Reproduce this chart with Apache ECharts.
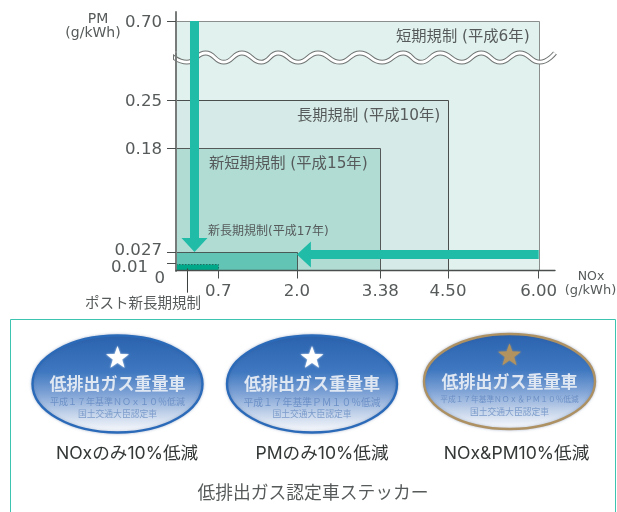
<!DOCTYPE html>
<html lang="ja">
<head>
<meta charset="utf-8">
<title>重量車排出ガス規制</title>
<style>
  html, body { margin: 0; padding: 0; background: #fff; }
  #chart { width: 617px; height: 512px; }
</style>
</head>
<body>
<div id="chart"></div>
<script src="https://cdn.jsdelivr.net/npm/echarts@6/dist/echarts.min.js"></script>
<script>
// Axis ticks
const xTicks = [0.7, 2, 3.38, 4.5, 6];
const xTickLabels = ['0.7', '2.0', '3.38', '4.50', '6.00'];
const yLabelValues = [0, 0.01, 0.027, 0.18, 0.25, 0.7];
const yLabelTexts = ['0', '0.01', '0.027', '0.18', '0.25', '0.70'];
const yTicks = [0.01, 0.027, 0.18, 0.25, 0.7];

// Regulation limits, outermost first: NOx and PM in g/kWh
const regulationNox = [6, 4.5, 3.38, 2, 0.7];
const regulationPm = [0.7, 0.25, 0.18, 0.027, 0.01];
const regulationFill = ['#e0f1ee', '#d6ebe7', '#b0dcd4', '#62c4b4', '#00a88a'];
const regulationStroke = ['#8a8f8e', '#4a4f4e', '#555a59', '#4a5a57', '#1c6f60'];

// Tightening arrows: from NOx, from PM, to NOx, to PM
const arrowRows = [
  [0.306, 0.7, 0.306, 0.027],
  [6, 0.0235, 2, 0.0235]
];

// Wavy mark for the cut in the PM axis
const waveNox = [-0.13, 0.18, 0.49, 0.79, 1.09, 1.41, 1.69, 2.02, 2.35, 2.71, 3.04,
  3.41, 3.76, 4.05, 4.37, 4.73, 5.05, 5.36, 5.69, 6.02, 6.27];
const wavePm = [0.319, 0.3055, 0.319, 0.3055, 0.319, 0.3055, 0.319, 0.3055, 0.319, 0.3055, 0.319,
  0.3055, 0.319, 0.3055, 0.319, 0.3055, 0.319, 0.3055, 0.319, 0.3055, 0.319];

// Leader from the smallest rectangle to its caption
const leaderRows = [[0.19, 0.003, 0.19, -0.0325]];

// Sticker captions
const stickerCaptions = ['NOxのみ10%低減', 'PMのみ10%低減', 'NOx&PM10%低減'];
const stickerNotes = ['平成１７年基準ＮＯｘ１０％低減', '平成１７年基準ＰＭ１０％低減', '平成１７年基準ＮＯｘ＆ＰＭ１０％低減'];

const LATIN = '"DejaVu Sans", "Noto Sans CJK JP", sans-serif';
const CAPTION = 'Inter, "Noto Sans CJK JP", sans-serif';
const INK = '#565a5a';

function label(text, x, y, size, align, color, font) {
  return {
    type: 'text', silent: true, z: 20,
    style: {
      text: text, x: x, y: y, fontSize: size, fontFamily: font || LATIN,
      fill: color || INK, align: align || 'left', verticalAlign: 'middle'
    }
  };
}

function starPoints(cx, cy, outer, inner) {
  const pts = [];
  for (let i = 0; i < 10; i++) {
    const r = i % 2 ? inner : outer;
    const a = -Math.PI / 2 + i * Math.PI / 5;
    pts.push([cx + r * Math.cos(a), cy + r * Math.sin(a)]);
  }
  return pts;
}

function sticker(cx, cy, rx, ry, ringColor, starColor, note, noteSize) {
  return {
    type: 'group', z: 10, silent: true,
    children: [
      {
        type: 'ellipse',
        shape: { cx: cx, cy: cy, rx: rx, ry: ry },
        style: {
          fill: {
            type: 'linear', x: 0, y: 0, x2: 0, y2: 1,
            colorStops: [
              { offset: 0, color: '#2a62ae' },
              { offset: 0.38, color: '#3f78c0' },
              { offset: 0.6, color: '#7fa3d6' },
              { offset: 0.8, color: '#c3d3ea' },
              { offset: 0.97, color: '#f6f8fc' }
            ]
          },
          stroke: ringColor, lineWidth: 2.4,
          shadowBlur: 3, shadowColor: 'rgba(60,90,140,0.35)'
        }
      },
      {
        type: 'polygon',
        shape: { points: starPoints(cx, cy - 26, 12, 4.8) },
        style: { fill: starColor, shadowBlur: 2, shadowColor: starColor }
      },
      {
        type: 'text',
        style: {
          text: '低排出ガス重量車', x: cx, y: cy, fontSize: 17, fontWeight: 'bold',
          fontFamily: '"Noto Sans CJK JP", sans-serif', align: 'center', verticalAlign: 'middle',
          fill: '#dfe7f2', shadowBlur: 3, shadowColor: 'rgba(30,60,120,0.7)'
        }
      },
      {
        type: 'text',
        style: {
          text: note, x: cx, y: cy + 18, fontSize: noteSize,
          fontFamily: '"Noto Sans CJK JP", sans-serif', align: 'center', verticalAlign: 'middle',
          fill: '#6c90c6', shadowBlur: 2, shadowColor: '#8fadd8'
        }
      },
      {
        type: 'text',
        style: {
          text: '国土交通大臣認定車', x: cx, y: cy + 30, fontSize: 8.8,
          fontFamily: '"Noto Sans CJK JP", sans-serif', align: 'center', verticalAlign: 'middle',
          fill: '#7c9ccb', shadowBlur: 2, shadowColor: '#a3bcde'
        }
      }
    ]
  };
}

const chart = echarts.init(document.getElementById('chart'), null, { renderer: 'canvas' });

const yFont = { fontSize: 16.6, fontFamily: LATIN, color: INK };

chart.setOption({
  animation: false,
  backgroundColor: '#fff',
  grid: { left: 176, top: 12, width: 379, height: 258.5, containLabel: false },
  xAxis: {
    type: 'value', min: 0, max: 6.27, z: 10,
    splitLine: { show: false },
    axisLine: { onZero: false, lineStyle: { color: '#4a4f4e', width: 1.4 } },
    axisTick: { length: 8, customValues: xTicks, lineStyle: { color: '#4a4f4e', width: 1 } },
    axisLabel: {
      margin: 13, fontSize: 16.6, fontFamily: LATIN, color: INK,
      customValues: xTicks,
      formatter: function (v) { return xTickLabels[xTicks.indexOf(v)]; }
    }
  },
  yAxis: {
    type: 'value', min: 0, max: 0.7132, z: 10,
    breaks: [{ start: 0.32, end: 0.656, gap: 0.0019 }],
    breakArea: { show: false },
    splitLine: { show: false },
    axisLine: { lineStyle: { color: '#777b7a', width: 2 } },
    axisTick: { length: 9, customValues: yTicks, lineStyle: { color: '#4a4f4e', width: 1 } },
    axisLabel: {
      margin: 11, customValues: yLabelValues,
      formatter: function (v) {
        const text = yLabelTexts[yLabelValues.indexOf(v)];
        if (v === 0) return '{zero|' + text + '}';
        if (v === 0.01) return '{low|' + text + '}';
        if (v === 0.027) return '{lift|' + text + '}';
        return '{std|' + text + '}';
      },
      rich: {
        std: Object.assign({ padding: [4, 3, 0, 0] }, yFont),
        zero: Object.assign({ padding: [17, 0, 0, 0] }, yFont),
        low: Object.assign({ padding: [8, 17, 0, 0] }, yFont),
        lift: Object.assign({ padding: [0, 3, 2, 0] }, yFont)
      }
    }
  },
  series: [
    {
      // Nested limit rectangles drawn from the origin
      type: 'custom', z: 2, silent: true, clip: false,
      encode: { x: 0, y: 1 },
      data: regulationNox.map(function (nox, i) { return [nox, regulationPm[i]]; }),
      renderItem: function (params, api) {
        const corner = api.coord([api.value(0), api.value(1)]);
        const origin = api.coord([0, 0]);
        const i = params.dataIndex;
        const x = Math.round(origin[0]);
        const y = Math.round(corner[1]) + 0.5;
        return {
          type: 'rect',
          shape: {
            x: x, y: y,
            width: Math.round(corner[0]) + 0.5 - x,
            height: origin[1] - y
          },
          style: {
            fill: regulationFill[i],
            stroke: regulationStroke[i],
            lineWidth: 1,
            lineDash: i === 4 ? [1.5, 1.5] : null
          }
        };
      }
    },
    {
      // Axis-cut wave: outline underneath, white band on top
      type: 'line', z: 3, silent: true, clip: false, smooth: 0.5, symbol: 'none',
      data: waveNox.map(function (x, i) { return [x, wavePm[i]]; }),
      lineStyle: { color: '#6f7372', width: 4.8 }
    },
    {
      type: 'line', z: 3, silent: true, clip: false, smooth: 0.5, symbol: 'none',
      data: waveNox.map(function (x, i) { return [x, wavePm[i]]; }),
      lineStyle: { color: '#ffffff', width: 2.8 }
    },
    {
      // Tightening arrows
      type: 'custom', z: 4, silent: true, clip: false,
      encode: { x: [0, 2], y: [1, 3] },
      data: arrowRows,
      renderItem: function (params, api) {
        const a = api.coord([api.value(0), api.value(1)]);
        const b = api.coord([api.value(2), api.value(3)]);
        const len = Math.hypot(b[0] - a[0], b[1] - a[1]);
        const ux = (b[0] - a[0]) / len, uy = (b[1] - a[1]) / len;
        const nx = -uy, ny = ux;
        const shaft = 4.5, head = 13, headLen = 14;
        const bx = b[0] - ux * headLen, by = b[1] - uy * headLen;
        return {
          type: 'polygon',
          shape: {
            points: [
              [a[0] + nx * shaft, a[1] + ny * shaft],
              [bx + nx * shaft, by + ny * shaft],
              [bx + nx * head, by + ny * head],
              [b[0], b[1]],
              [bx - nx * head, by - ny * head],
              [bx - nx * shaft, by - ny * shaft],
              [a[0] - nx * shaft, a[1] - ny * shaft]
            ]
          },
          style: { fill: '#20bca8' }
        };
      }
    },
    {
      // Leader line to the ポスト新長期規制 caption
      type: 'custom', z: 5, silent: true, clip: false,
      encode: { x: [0, 2], y: [1, 3] },
      data: leaderRows,
      renderItem: function (params, api) {
        const a = api.coord([api.value(0), api.value(1)]);
        const b = api.coord([api.value(2), api.value(3)]);
        return {
          type: 'line',
          shape: { x1: a[0], y1: a[1], x2: b[0], y2: b[1] },
          style: { stroke: '#3a3f3e', lineWidth: 1 }
        };
      }
    }
  ],
  graphic: [
    label('PM', 98, 19, 14, 'center'),
    label('(g/kWh)', 93, 33, 14, 'center'),
    label('NOx', 591, 277, 12.5, 'center'),
    label('(g/kWh)', 590.5, 291, 13, 'center'),
    label('短期規制 (平成6年)', 396, 37, 15.3),
    label('長期規制 (平成10年)', 297, 116, 15.3),
    label('新短期規制 (平成15年)', 209, 164, 15.3),
    label('新長期規制(平成17年)', 208, 232, 12),
    label('ポスト新長期規制', 85, 304, 14.5),
    {
      type: 'rect', z: 1, silent: true,
      shape: { x: 10.5, y: 319.5, width: 605, height: 220 },
      style: { fill: 'none', stroke: '#3cc4b0', lineWidth: 1 }
    },
    sticker(117.5, 384, 85, 48.5, '#2a6ab8', '#ffffff', stickerNotes[0], 9),
    sticker(312, 384, 85, 48.5, '#2a6ab8', '#ffffff', stickerNotes[1], 9.8),
    sticker(509.5, 381.5, 85.5, 47.5, '#ad9163', '#b2935f', stickerNotes[2], 7.7),
    label(stickerCaptions[0], 127, 454, 17.6, 'center', '#333736', CAPTION),
    label(stickerCaptions[1], 322, 454, 17.6, 'center', '#333736', CAPTION),
    label(stickerCaptions[2], 516.5, 454, 17.6, 'center', '#333736', CAPTION),
    label('低排出ガス認定車ステッカー', 313, 494, 17.8, 'center', INK, CAPTION)
  ]
});
</script>
</body>
</html>
